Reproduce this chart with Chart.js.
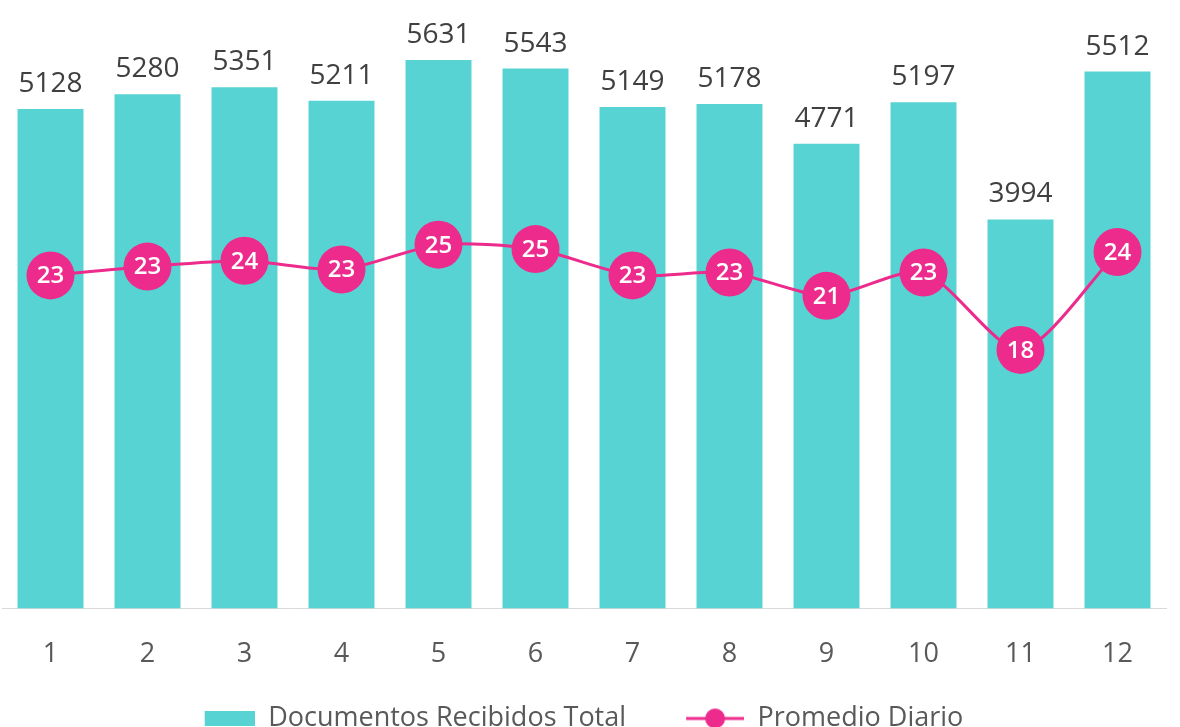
<!DOCTYPE html>
<html>
<head>
<meta charset="utf-8">
<script src="https://cdn.jsdelivr.net/npm/chart.js@4.4.1/dist/chart.umd.min.js"></script>
<style>
  html, body { margin: 0; padding: 0; overflow: hidden; background: #fff; width: 1180px; height: 727px; }
  #wrap { position: absolute; left: -86px; top: 0; width: 1276px; height: 742px; }
</style>
</head>
<body>
<div id="wrap"><canvas id="docsChart"></canvas></div>
<script>
const months = ['1', '2', '3', '4', '5', '6', '7', '8', '9', '10', '11', '12'];
const totalDocs = [5128, 5280, 5351, 5211, 5631, 5543, 5149, 5178, 4771, 5197, 3994, 5512];
const dailyAvg = [22.8, 23.4, 23.8, 23.2, 24.9, 24.6, 22.8, 23.0, 21.4, 23.0, 17.7, 24.4];

const barColor = '#58D3D3';
const pink = '#EC2B8C';

Chart.defaults.font.family = "'Open Sans', sans-serif";

// legend swatches, drawn flush right so the empty left part acts as spacing
const swatchW = 114;
const barSwatch = document.createElement('canvas');
barSwatch.width = swatchW;
barSwatch.height = 15;
let sctx = barSwatch.getContext('2d');
sctx.fillStyle = barColor;
sctx.fillRect(swatchW - 50, 0, 50, 15);

const lineSwatch = document.createElement('canvas');
lineSwatch.width = swatchW;
lineSwatch.height = 22;
sctx = lineSwatch.getContext('2d');
sctx.strokeStyle = pink;
sctx.lineWidth = 3;
sctx.beginPath();
sctx.moveTo(swatchW - 58, 11);
sctx.lineTo(swatchW, 11);
sctx.stroke();
sctx.fillStyle = pink;
sctx.beginPath();
sctx.arc(swatchW - 29, 11, 10, 0, Math.PI * 2);
sctx.fill();

// value labels above bars and inside the circles
const valueLabels = {
    id: 'valueLabels',
    afterDatasetsDraw(chart) {
        const ctx = chart.ctx;
        ctx.save();
        ctx.textAlign = 'center';

        const bars = chart.getDatasetMeta(0).data;
        ctx.fillStyle = '#404040';
        ctx.font = "28px 'Open Sans'";
        ctx.textBaseline = 'alphabetic';
        bars.forEach((bar, i) => {
            ctx.fillText(String(totalDocs[i]), bar.x, bar.y - 17);
        });

        const points = chart.getDatasetMeta(1).data;
        ctx.fillStyle = '#ffffff';
        ctx.font = "600 24px 'Open Sans'";
        ctx.textBaseline = 'middle';
        points.forEach((pt, i) => {
            ctx.fillText(String(Math.round(dailyAvg[i])), pt.x, pt.y + 1);
        });
        ctx.restore();
    }
};

const ctx = document.getElementById('docsChart').getContext('2d');
new Chart(ctx, {
    type: 'bar',
    data: {
        labels: months,
        datasets: [{
            type: 'bar',
            label: 'Documentos Recibidos Total',
            data: totalDocs,
            backgroundColor: barColor,
            borderWidth: 0,
            categoryPercentage: 1,
            barPercentage: 0.68,
            yAxisID: 'y',
            order: 1
        }, {
            type: 'line',
            label: 'Promedio Diario',
            data: dailyAvg,
            borderColor: pink,
            backgroundColor: pink,
            borderWidth: 3,
            tension: 0.25,
            pointRadius: 24,
            pointBorderWidth: 0,
            pointBackgroundColor: pink,
            yAxisID: 'y2',
            order: 0
        }]
    },
    options: {
        responsive: true,
        maintainAspectRatio: false,
        animation: false,
        layout: { padding: { top: 20, left: 0, right: 0, bottom: 0 } },
        plugins: {
            tooltip: { enabled: false },
            legend: {
                position: 'bottom',
                labels: {
                    usePointStyle: true,
                    pointStyleWidth: swatchW,
                    padding: 4,
                    color: '#595959',
                    font: { size: 27 },
                    sort: (a, b) => a.datasetIndex - b.datasetIndex,
                    generateLabels(chart) {
                        const items = Chart.defaults.plugins.legend.labels.generateLabels(chart);
                        items.forEach(item => {
                            item.pointStyle = item.datasetIndex === 0 ? barSwatch : lineSwatch;
                        });
                        return items;
                    }
                }
            }
        },
        scales: {
            x: {
                grid: { display: false, drawTicks: false },
                border: { display: true, color: '#D9D9D9', width: 1 },
                ticks: { color: '#595959', font: { size: 27 }, padding: 30 }
            },
            y: {
                min: 0,
                max: 6000,
                grid: { display: false },
                border: { display: false },
                ticks: { display: false },
                afterFit(scale) { scale.width = 88; }
            },
            y2: {
                display: false,
                min: 0,
                max: 40
            }
        }
    },
    plugins: [valueLabels]
});
</script>
</body>
</html>
